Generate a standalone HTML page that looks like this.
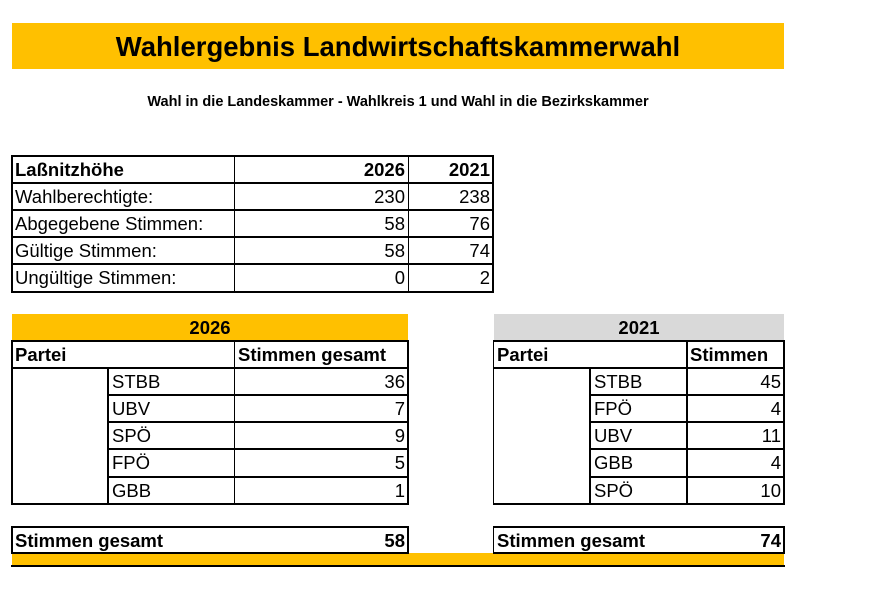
<!DOCTYPE html>
<html><head><meta charset="utf-8"><style>
body{margin:0;width:869px;height:589px;background:#fff;position:relative;overflow:hidden;font-family:"Liberation Sans",sans-serif;color:#000}
div{position:absolute}
.h{height:2px;background:#000}
.v{width:1px;background:#000}
.V{width:2px;background:#000}
.t{font-size:18.5px;line-height:28px;white-space:nowrap}
.b{font-weight:bold}
.r{text-align:right}
.c{text-align:center}
</style></head><body>
<div style="left:12px;top:23px;width:772px;height:46px;background:#FFC000"></div>
<div class="c b" style="left:12px;top:23px;width:772px;line-height:48px;font-size:27.5px">Wahlergebnis Landwirtschaftskammerwahl</div>
<div class="c b" style="left:12px;top:93px;width:772px;line-height:19px;font-size:14.5px">Wahl in die Landeskammer - Wahlkreis 1 und Wahl in die Bezirkskammer</div>

<!-- Table 1 -->
<div class="h" style="left:11px;top:155px;width:483px"></div>
<div class="h" style="left:11px;top:182px;width:483px"></div>
<div class="h" style="left:11px;top:209px;width:483px"></div>
<div class="h" style="left:11px;top:236px;width:483px"></div>
<div class="h" style="left:11px;top:263px;width:483px"></div>
<div class="h" style="left:11px;top:291px;width:483px"></div>
<div class="V" style="left:11px;top:155px;height:138px"></div>
<div class="v" style="left:234px;top:155px;height:138px"></div>
<div class="v" style="left:408px;top:155px;height:138px"></div>
<div class="V" style="left:492px;top:155px;height:138px"></div>
<div class="t b" style="left:15px;top:156px">Laßnitzhöhe</div>
<div class="t b r" style="left:300px;top:156px;width:105px">2026</div>
<div class="t b r" style="left:380px;top:156px;width:110px">2021</div>
<div class="t" style="left:15px;top:183px">Wahlberechtigte:</div>
<div class="t r" style="left:300px;top:183px;width:105px">230</div>
<div class="t r" style="left:380px;top:183px;width:110px">238</div>
<div class="t" style="left:15px;top:210px">Abgegebene Stimmen:</div>
<div class="t r" style="left:300px;top:210px;width:105px">58</div>
<div class="t r" style="left:380px;top:210px;width:110px">76</div>
<div class="t" style="left:15px;top:237px">Gültige Stimmen:</div>
<div class="t r" style="left:300px;top:237px;width:105px">58</div>
<div class="t r" style="left:380px;top:237px;width:110px">74</div>
<div class="t" style="left:15px;top:264px">Ungültige Stimmen:</div>
<div class="t r" style="left:300px;top:264px;width:105px">0</div>
<div class="t r" style="left:380px;top:264px;width:110px">2</div>

<!-- 2026 -->
<div style="left:12px;top:314px;width:396px;height:27px;background:#FFC000"></div>
<div class="t b c" style="left:12px;top:314px;width:396px">2026</div>
<div class="h" style="left:11px;top:340px;width:398px"></div>
<div class="h" style="left:11px;top:367px;width:398px"></div>
<div class="h" style="left:108px;top:394px;width:301px"></div>
<div class="h" style="left:108px;top:421px;width:301px"></div>
<div class="h" style="left:108px;top:448px;width:301px"></div>
<div class="h" style="left:108px;top:476px;width:301px"></div>
<div class="h" style="left:11px;top:503px;width:398px"></div>
<div class="V" style="left:11px;top:340px;height:165px"></div>
<div class="V" style="left:107px;top:367px;height:138px"></div>
<div class="v" style="left:234px;top:340px;height:165px"></div>
<div class="V" style="left:407px;top:340px;height:165px"></div>
<div class="t b" style="left:15px;top:341px">Partei</div>
<div class="t b" style="left:238px;top:341px">Stimmen gesamt</div>
<div class="t" style="left:112px;top:368px">STBB</div><div class="t r" style="left:300px;top:368px;width:105px">36</div>
<div class="t" style="left:112px;top:395px">UBV</div><div class="t r" style="left:300px;top:395px;width:105px">7</div>
<div class="t" style="left:112px;top:422px">SPÖ</div><div class="t r" style="left:300px;top:422px;width:105px">9</div>
<div class="t" style="left:112px;top:449px">FPÖ</div><div class="t r" style="left:300px;top:449px;width:105px">5</div>
<div class="t" style="left:112px;top:477px">GBB</div><div class="t r" style="left:300px;top:477px;width:105px">1</div>

<!-- 2021 -->
<div style="left:494px;top:314px;width:290px;height:27px;background:#D9D9D9"></div>
<div class="t b c" style="left:494px;top:314px;width:290px">2021</div>
<div class="h" style="left:493px;top:340px;width:292px"></div>
<div class="h" style="left:493px;top:367px;width:292px"></div>
<div class="h" style="left:590px;top:394px;width:195px"></div>
<div class="h" style="left:590px;top:421px;width:195px"></div>
<div class="h" style="left:590px;top:448px;width:195px"></div>
<div class="h" style="left:590px;top:476px;width:195px"></div>
<div class="h" style="left:493px;top:503px;width:292px"></div>
<div class="v" style="left:493px;top:340px;height:165px"></div>
<div class="V" style="left:589px;top:367px;height:138px"></div>
<div class="V" style="left:686px;top:340px;height:165px"></div>
<div class="V" style="left:783px;top:340px;height:165px"></div>
<div class="t b" style="left:497px;top:341px">Partei</div>
<div class="t b" style="left:690px;top:341px">Stimmen</div>
<div class="t" style="left:594px;top:368px">STBB</div><div class="t r" style="left:680px;top:368px;width:101px">45</div>
<div class="t" style="left:594px;top:395px">FPÖ</div><div class="t r" style="left:680px;top:395px;width:101px">4</div>
<div class="t" style="left:594px;top:422px">UBV</div><div class="t r" style="left:680px;top:422px;width:101px">11</div>
<div class="t" style="left:594px;top:449px">GBB</div><div class="t r" style="left:680px;top:449px;width:101px">4</div>
<div class="t" style="left:594px;top:477px">SPÖ</div><div class="t r" style="left:680px;top:477px;width:101px">10</div>

<!-- totals -->
<div class="h" style="left:11px;top:526px;width:398px"></div>
<div class="h" style="left:493px;top:526px;width:292px"></div>
<div style="left:12px;top:553px;width:772px;height:12px;background:#FFC000"></div>
<div class="h" style="left:11px;top:552px;width:398px"></div>
<div class="h" style="left:493px;top:552px;width:292px"></div>
<div class="h" style="left:11px;top:565px;width:774px"></div>
<div class="V" style="left:11px;top:526px;height:28px"></div>
<div class="V" style="left:407px;top:526px;height:28px"></div>
<div class="v" style="left:493px;top:526px;height:28px"></div>
<div class="V" style="left:783px;top:526px;height:28px"></div>
<div class="t b" style="left:15px;top:527px">Stimmen gesamt</div>
<div class="t b r" style="left:300px;top:527px;width:105px">58</div>
<div class="t b" style="left:497px;top:527px">Stimmen gesamt</div>
<div class="t b r" style="left:680px;top:527px;width:101px">74</div>
</body></html>
